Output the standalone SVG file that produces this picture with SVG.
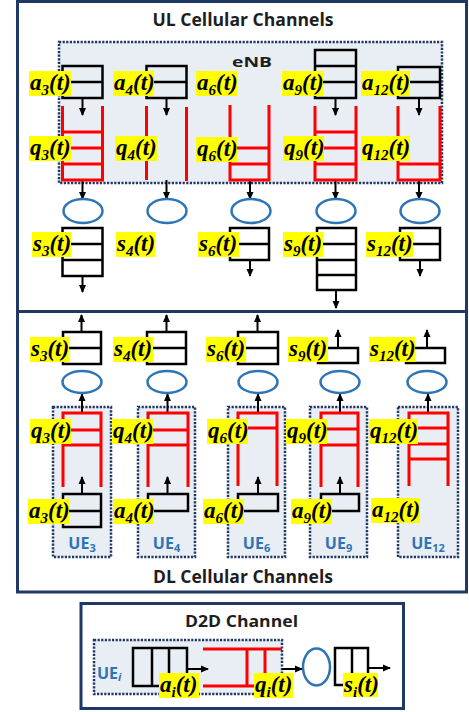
<svg xmlns="http://www.w3.org/2000/svg" width="469" height="712" viewBox="0 0 469 712">
<style>
.frame{fill:#fff;stroke:#1f3864;stroke-width:3}
.dot{fill:#e9edf4;stroke:#1f3864;stroke-width:2.5;stroke-dasharray:2.2 1.4}
.q{fill:none;stroke:#ff0000;stroke-width:3}
.b{fill:none;stroke:#000;stroke-width:2.5}
.ar{fill:none;stroke:#000;stroke-width:2;marker-end:url(#ah)}
.ell{fill:none;stroke:#2e75b6;stroke-width:2.5}
.hl{fill:#ffff00}
.lb{font-family:"Liberation Serif",serif;font-weight:bold;font-style:italic;font-size:23px;fill:#000}
.sb{font-size:15px}
.ttl{font-family:"Open Sans",sans-serif;font-weight:bold;font-size:17px;fill:#1e1e1e}
.ue{font-family:"Open Sans",sans-serif;font-weight:bold;font-size:16px;fill:#2e75b6}
.ues{font-size:11px}
</style>
<defs>
<marker id="ah" markerUnits="userSpaceOnUse" markerWidth="8" markerHeight="8" refX="7" refY="4" orient="auto">
<path d="M0,0.5 L8,4 L0,7.5 z" fill="#000"/>
</marker>
</defs>

<g id="frames">
<rect class="frame" x="17.5" y="1.5" width="449" height="310"/>
<rect class="frame" x="17.5" y="311.5" width="449" height="280.5"/>
<text class="ttl" x="243" y="26" text-anchor="middle" textLength="181" lengthAdjust="spacingAndGlyphs">UL Cellular Channels</text>
<text class="ttl" x="243" y="583" text-anchor="middle" textLength="180" lengthAdjust="spacingAndGlyphs">DL Cellular Channels</text>
</g>

<g id="enb">
<rect class="dot" x="59" y="42" width="383" height="141"/>
<text class="ttl" x="252" y="67" text-anchor="middle" style="font-size:15px" textLength="40" lengthAdjust="spacingAndGlyphs">eNB</text>
</g>

<g id="ue-boxes">
<rect class="dot" x="53" y="407" width="58" height="150"/>
<rect class="dot" x="138" y="407" width="57" height="150"/>
<rect class="dot" x="228" y="407" width="57" height="150"/>
<rect class="dot" x="310" y="407" width="57" height="150"/>
<rect class="dot" x="398" y="407" width="60" height="150"/>
</g>

<g id="d2d">
<rect class="frame" x="81" y="603.5" width="322.5" height="105"/>
<text class="ttl" x="241.5" y="627" text-anchor="middle" style="font-size:16px" textLength="113" lengthAdjust="spacingAndGlyphs">D2D Channel</text>
</g>
<g id="d2d-ue-box">
<rect class="dot" x="94" y="640" width="188" height="54"/>
<text class="ue" x="97" y="679">UE<tspan class="ues" dy="2" style="font-style:italic">i</tspan></text>
</g>

<g id="connectors">
<line class="ar" x1="82.5" y1="98" x2="82.5" y2="115"/>
<line class="ar" x1="82.5" y1="180" x2="82.5" y2="199"/>
<line class="ar" x1="82.5" y1="276" x2="82.5" y2="292"/>
<line class="ar" x1="166.5" y1="98" x2="166.5" y2="115"/>
<line class="ar" x1="166.5" y1="180" x2="166.5" y2="199"/>
<line class="ar" x1="250" y1="180" x2="250" y2="199"/>
<line class="ar" x1="250" y1="260" x2="250" y2="276"/>
<line class="ar" x1="335.5" y1="98" x2="335.5" y2="115"/>
<line class="ar" x1="335.5" y1="180" x2="335.5" y2="199"/>
<line class="ar" x1="336" y1="290" x2="336" y2="308"/>
<line class="ar" x1="419" y1="98" x2="419" y2="115"/>
<line class="ar" x1="419" y1="180" x2="419" y2="199"/>
<line class="ar" x1="420" y1="260" x2="420" y2="276"/>

<line class="ar" x1="81.5" y1="332" x2="81.5" y2="315"/>
<line class="ar" x1="82" y1="413" x2="82" y2="394"/>
<line class="ar" x1="82" y1="494" x2="82" y2="477"/>
<line class="ar" x1="166.5" y1="332" x2="166.5" y2="315"/>
<line class="ar" x1="167.5" y1="413" x2="167.5" y2="394"/>
<line class="ar" x1="167.5" y1="494" x2="167.5" y2="477"/>
<line class="ar" x1="257.5" y1="332" x2="257.5" y2="315"/>
<line class="ar" x1="258" y1="413" x2="258" y2="394"/>
<line class="ar" x1="258" y1="494" x2="258" y2="477"/>
<line class="ar" x1="338" y1="348" x2="338" y2="330"/>
<line class="ar" x1="340" y1="413" x2="340" y2="394"/>
<line class="ar" x1="340" y1="494" x2="340" y2="477"/>
<line class="ar" x1="427" y1="348" x2="427" y2="330"/>
<line class="ar" x1="428" y1="413" x2="428" y2="394"/>

<line class="ar" x1="187" y1="669" x2="208" y2="669"/>
<line class="ar" x1="282" y1="669" x2="302" y2="669"/>
<line class="ar" x1="368" y1="668" x2="390" y2="668"/>
</g>

<!-- UL column 3 -->
<g id="ul-ue3">
<rect class="b" x="62.5" y="66" width="40" height="32"/>
<line class="b" x1="62.5" y1="82" x2="102.5" y2="82"/>
<path class="q" d="M62.5,106V180H102.5V106M62.5,132H102.5M62.5,148H102.5M62.5,164H102.5"/>
<ellipse class="ell" cx="83" cy="211" rx="19.5" ry="12"/>
<rect class="b" x="62.5" y="228" width="40" height="48"/>
<path class="b" d="M62.5,244H102.5M62.5,260H102.5"/>
<rect class="hl" x="29" y="71" width="42" height="25"/>
<text class="lb" x="30" y="90">a<tspan class="sb" dy="5">3</tspan><tspan dy="-5">(t)</tspan></text>
<rect class="hl" x="29" y="136" width="42" height="25"/>
<text class="lb" x="30" y="155">q<tspan class="sb" dy="5">3</tspan><tspan dy="-5">(t)</tspan></text>
<rect class="hl" x="32" y="232" width="39" height="25"/>
<text class="lb" x="33" y="251">s<tspan class="sb" dy="5">3</tspan><tspan dy="-5">(t)</tspan></text>
</g>

<!-- UL column 4 -->
<g id="ul-ue4">
<rect class="b" x="146.5" y="66" width="40" height="32"/>
<line class="b" x1="146.5" y1="82" x2="186.5" y2="82"/>
<path class="q" d="M146.5,106V180M186.5,107V181"/>
<ellipse class="ell" cx="167" cy="211" rx="19.5" ry="12"/>
<rect class="hl" x="113" y="71" width="41" height="25"/>
<text class="lb" x="114" y="90">a<tspan class="sb" dy="5">4</tspan><tspan dy="-5">(t)</tspan></text>
<rect class="hl" x="115" y="136" width="42" height="25"/>
<text class="lb" x="116" y="155">q<tspan class="sb" dy="5">4</tspan><tspan dy="-5">(t)</tspan></text>
<rect class="hl" x="116" y="232" width="39" height="25"/>
<text class="lb" x="117" y="251">s<tspan class="sb" dy="5">4</tspan><tspan dy="-5">(t)</tspan></text>
</g>

<!-- UL column 6 -->
<g id="ul-ue6">
<path class="q" d="M230,105V180H269V105M230,148H269M230,164H269"/>
<ellipse class="ell" cx="251" cy="211" rx="19.5" ry="12"/>
<rect class="b" x="230" y="228" width="39" height="32"/>
<line class="b" x1="230" y1="244" x2="269" y2="244"/>
<rect class="hl" x="196" y="71" width="41" height="25"/>
<text class="lb" x="197" y="90">a<tspan class="sb" dy="5">6</tspan><tspan dy="-5">(t)</tspan></text>
<rect class="hl" x="196" y="137" width="41" height="25"/>
<text class="lb" x="197" y="156">q<tspan class="sb" dy="5">6</tspan><tspan dy="-5">(t)</tspan></text>
<rect class="hl" x="198" y="232" width="41" height="25"/>
<text class="lb" x="199" y="251">s<tspan class="sb" dy="5">6</tspan><tspan dy="-5">(t)</tspan></text>
</g>

<!-- UL column 9 -->
<g id="ul-ue9">
<rect class="b" x="315" y="50" width="41" height="48"/>
<path class="b" d="M315,66H356M315,82H356"/>
<path class="q" d="M315,106V180H356V106M315,132H356M315,148H356M315,164H356"/>
<ellipse class="ell" cx="336" cy="211" rx="19.5" ry="12"/>
<rect class="b" x="317" y="228" width="39" height="62"/>
<path class="b" d="M317,244H356M317,260H356M317,275H356"/>
<rect class="hl" x="282" y="71" width="41" height="25"/>
<text class="lb" x="283" y="90">a<tspan class="sb" dy="5">9</tspan><tspan dy="-5">(t)</tspan></text>
<rect class="hl" x="283" y="136" width="41" height="25"/>
<text class="lb" x="284" y="155">q<tspan class="sb" dy="5">9</tspan><tspan dy="-5">(t)</tspan></text>
<rect class="hl" x="283" y="232" width="40" height="25"/>
<text class="lb" x="284" y="251">s<tspan class="sb" dy="5">9</tspan><tspan dy="-5">(t)</tspan></text>
</g>

<!-- UL column 12 -->
<g id="ul-ue12">
<rect class="b" x="398" y="67" width="42" height="31"/>
<line class="b" x1="398" y1="82" x2="440" y2="82"/>
<path class="q" d="M398,106V180H440V106M398,164H440"/>
<ellipse class="ell" cx="420" cy="211" rx="19.5" ry="12"/>
<rect class="b" x="400" y="228" width="40" height="32"/>
<line class="b" x1="400" y1="244" x2="440" y2="244"/>
<rect class="hl" x="361" y="71" width="49" height="25"/>
<text class="lb" x="362" y="90">a<tspan class="sb" dy="5">12</tspan><tspan dy="-5">(t)</tspan></text>
<rect class="hl" x="361" y="136" width="49" height="25"/>
<text class="lb" x="362" y="155">q<tspan class="sb" dy="5">12</tspan><tspan dy="-5">(t)</tspan></text>
<rect class="hl" x="366" y="232" width="47" height="25"/>
<text class="lb" x="367" y="251">s<tspan class="sb" dy="5">12</tspan><tspan dy="-5">(t)</tspan></text>
</g>

<!-- DL column 3 -->
<g id="dl-ue3">
<rect class="b" x="63" y="332" width="38" height="32"/>
<line class="b" x1="63" y1="348" x2="101" y2="348"/>
<ellipse class="ell" cx="82" cy="382" rx="19.5" ry="11"/>
<path class="q" d="M63,487V413H101V487M63,430H101M63,445H101"/>
<rect class="b" x="63" y="494" width="38" height="33"/>
<line class="b" x1="63" y1="511" x2="101" y2="511"/>
<text class="ue" x="82" y="549" text-anchor="middle">UE<tspan class="ues" dy="3">3</tspan></text>
<rect class="hl" x="30" y="337" width="39" height="25"/>
<text class="lb" x="31" y="356">s<tspan class="sb" dy="5">3</tspan><tspan dy="-5">(t)</tspan></text>
<rect class="hl" x="30" y="419" width="41" height="25"/>
<text class="lb" x="31" y="438">q<tspan class="sb" dy="5">3</tspan><tspan dy="-5">(t)</tspan></text>
<rect class="hl" x="28" y="499" width="41" height="25"/>
<text class="lb" x="29" y="518">a<tspan class="sb" dy="5">3</tspan><tspan dy="-5">(t)</tspan></text>
</g>

<!-- DL column 4 -->
<g id="dl-ue4">
<rect class="b" x="147" y="332" width="39" height="32"/>
<line class="b" x1="147" y1="348" x2="186" y2="348"/>
<ellipse class="ell" cx="167" cy="382" rx="19.5" ry="11"/>
<path class="q" d="M148,487V413H188V487M148,430H188M148,445H188"/>
<rect class="b" x="148" y="494" width="40" height="17"/>
<text class="ue" x="166.5" y="549" text-anchor="middle">UE<tspan class="ues" dy="3">4</tspan></text>
<rect class="hl" x="113" y="337" width="40" height="25"/>
<text class="lb" x="114" y="356">s<tspan class="sb" dy="5">4</tspan><tspan dy="-5">(t)</tspan></text>
<rect class="hl" x="112" y="419" width="41" height="25"/>
<text class="lb" x="113" y="438">q<tspan class="sb" dy="5">4</tspan><tspan dy="-5">(t)</tspan></text>
<rect class="hl" x="113" y="499" width="41" height="25"/>
<text class="lb" x="114" y="518">a<tspan class="sb" dy="5">4</tspan><tspan dy="-5">(t)</tspan></text>
</g>

<!-- DL column 6 -->
<g id="dl-ue6">
<rect class="b" x="238" y="332" width="40" height="32"/>
<line class="b" x1="238" y1="348" x2="278" y2="348"/>
<ellipse class="ell" cx="258" cy="382" rx="19.5" ry="11"/>
<path class="q" d="M238,486V413H277V486M238,428H277"/>
<rect class="b" x="238" y="494" width="40" height="17"/>
<text class="ue" x="256.5" y="549" text-anchor="middle">UE<tspan class="ues" dy="3">6</tspan></text>
<rect class="hl" x="206" y="337" width="40" height="25"/>
<text class="lb" x="207" y="356">s<tspan class="sb" dy="5">6</tspan><tspan dy="-5">(t)</tspan></text>
<rect class="hl" x="207" y="419" width="41" height="25"/>
<text class="lb" x="208" y="438">q<tspan class="sb" dy="5">6</tspan><tspan dy="-5">(t)</tspan></text>
<rect class="hl" x="203" y="499" width="41" height="25"/>
<text class="lb" x="204" y="518">a<tspan class="sb" dy="5">6</tspan><tspan dy="-5">(t)</tspan></text>
</g>

<!-- DL column 9 -->
<g id="dl-ue9">
<rect class="b" x="318" y="348" width="40" height="15"/>
<ellipse class="ell" cx="340" cy="382" rx="19.5" ry="11"/>
<path class="q" d="M321,487V413H358V487M321,429H358M321,445H358"/>
<rect class="b" x="321" y="494" width="38" height="17"/>
<text class="ue" x="338.5" y="549" text-anchor="middle">UE<tspan class="ues" dy="3">9</tspan></text>
<rect class="hl" x="288" y="337" width="40" height="25"/>
<text class="lb" x="289" y="356">s<tspan class="sb" dy="5">9</tspan><tspan dy="-5">(t)</tspan></text>
<rect class="hl" x="286" y="419" width="41" height="25"/>
<text class="lb" x="287" y="438">q<tspan class="sb" dy="5">9</tspan><tspan dy="-5">(t)</tspan></text>
<rect class="hl" x="291" y="499" width="41" height="25"/>
<text class="lb" x="292" y="518">a<tspan class="sb" dy="5">9</tspan><tspan dy="-5">(t)</tspan></text>
</g>

<!-- DL column 12 -->
<g id="dl-ue12">
<rect class="b" x="406" y="348" width="39" height="15"/>
<ellipse class="ell" cx="427" cy="382" rx="19.5" ry="11"/>
<path class="q" d="M409,486V413H448V486M409,428H448M409,444H448M409,459H448"/>
<text class="ue" x="428" y="549" text-anchor="middle">UE<tspan class="ues" dy="3">12</tspan></text>
<rect class="hl" x="369" y="337" width="46" height="25"/>
<text class="lb" x="370" y="356">s<tspan class="sb" dy="5">12</tspan><tspan dy="-5">(t)</tspan></text>
<rect class="hl" x="369" y="419" width="49" height="25"/>
<text class="lb" x="370" y="438">q<tspan class="sb" dy="5">12</tspan><tspan dy="-5">(t)</tspan></text>
<rect class="hl" x="371" y="498" width="49" height="25"/>
<text class="lb" x="372" y="517">a<tspan class="sb" dy="5">12</tspan><tspan dy="-5">(t)</tspan></text>
</g>

<!-- D2D nodes -->
<g id="d2d-ai">
<rect class="b" x="133" y="648" width="54" height="38"/>
<path class="b" d="M152,648V686M169,648V686"/>
<rect class="hl" x="159" y="673" width="40" height="25"/>
<text class="lb" x="160" y="692">a<tspan class="sb" dy="5">i</tspan><tspan dy="-5">(t)</tspan></text>
</g>
<g id="d2d-qi">
<path class="q" d="M203,649H282M203,686H282M247,649V686M265,649V686"/>
<rect class="hl" x="254" y="673" width="39" height="25"/>
<text class="lb" x="255" y="692">q<tspan class="sb" dy="5">i</tspan><tspan dy="-5">(t)</tspan></text>
</g>
<g id="d2d-server">
<ellipse class="ell" cx="316.5" cy="667" rx="13.5" ry="18.5"/>
</g>
<g id="d2d-si">
<rect class="b" x="335" y="648" width="33" height="37"/>
<line class="b" x1="352" y1="648" x2="352" y2="685"/>
<rect class="hl" x="343" y="673" width="35" height="24"/>
<text class="lb" x="344" y="692">s<tspan class="sb" dy="5">i</tspan><tspan dy="-5">(t)</tspan></text>
</g>
</svg>
